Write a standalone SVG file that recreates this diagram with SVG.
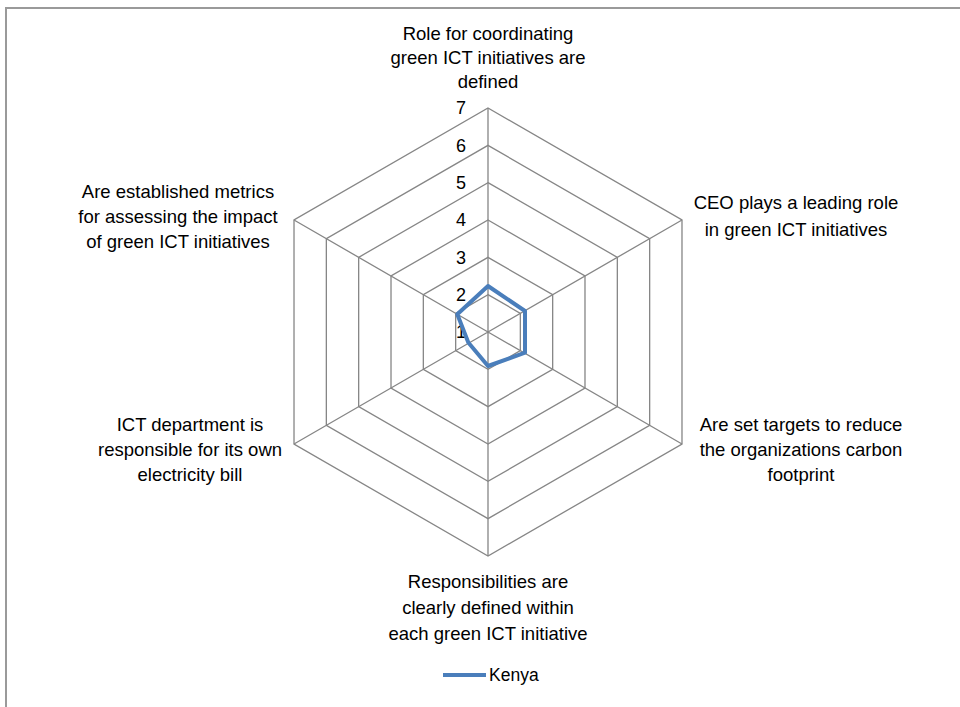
<svg xmlns="http://www.w3.org/2000/svg" width="960" height="707" viewBox="0 0 960 707">
<style>
.t{font-family:"Liberation Sans",Arial,sans-serif;font-size:18.5px;fill:#000;text-anchor:middle}
.n{font-family:"Liberation Sans",Arial,sans-serif;font-size:18px;fill:#000;text-anchor:end}
.g{fill:none;stroke:#868686;stroke-width:1.3}
.s{fill:none;stroke:#4A7EBB;stroke-width:4;stroke-linejoin:round}
</style>
<rect width="960" height="707" fill="#fff"/>
<path d="M6,707 V8 H960" fill="none" stroke="#9a9a9a" stroke-width="2"/>
<g id="grid">
<polygon class="g" points="488,294.67 520.33,313.33 520.33,350.67 488,369.33 455.67,350.67 455.67,313.33"/>
<polygon class="g" points="488,257.33 552.67,294.67 552.67,369.33 488,406.67 423.33,369.33 423.33,294.67"/>
<polygon class="g" points="488,220 584.99,276 584.99,388 488,444 391.01,388 391.01,276"/>
<polygon class="g" points="488,182.67 617.33,257.33 617.33,406.67 488,481.33 358.67,406.67 358.67,257.33"/>
<polygon class="g" points="488,145.33 649.66,238.67 649.66,425.33 488,518.67 326.34,425.33 326.34,238.67"/>
<polygon class="g" points="488,108 681.99,220 681.99,444 488,556 294.01,444 294.01,220"/>
<path class="g" d="M488,332 L488,108 M488,332 L681.99,220 M488,332 L681.99,444 M488,332 L488,556 M488,332 L294.01,444 M488,332 L294.01,220"/>
</g>
<g id="axis-values">
<text class="n" x="466" y="114">7</text>
<text class="n" x="466" y="152">6</text>
<text class="n" x="466" y="189">5</text>
<text class="n" x="466" y="226">4</text>
<text class="n" x="466" y="264">3</text>
<text class="n" x="466" y="301">2</text>
<text class="n" x="466" y="338">1</text>
</g>
<g id="connectors">
<polygon id="series-kenya" class="s" points="488,286 525,311 525,352.7 488,366 468.3,342.5 457.3,314.3"/>
</g>
<g id="label-top">
<text class="t" x="488" y="40">Role for coordinating</text>
<text class="t" x="488" y="64">green ICT initiatives  are</text>
<text class="t" x="488" y="88">defined</text>
</g>
<g id="label-upper-right">
<text class="t" x="796" y="209">CEO plays a leading role</text>
<text class="t" x="796" y="236">in green ICT initiatives</text>
</g>
<g id="label-lower-right">
<text class="t" x="801" y="431">Are set targets to reduce</text>
<text class="t" x="801" y="456">the organizations  carbon</text>
<text class="t" x="801" y="481">footprint</text>
</g>
<g id="label-bottom">
<text class="t" x="488" y="588">Responsibilities are</text>
<text class="t" x="488" y="614">clearly defined within</text>
<text class="t" x="488" y="640">each green ICT initiative</text>
</g>
<g id="label-lower-left">
<text class="t" x="190" y="431">ICT department is</text>
<text class="t" x="190" y="456">responsible for its own</text>
<text class="t" x="190" y="481">electricity bill</text>
</g>
<g id="label-upper-left">
<text class="t" x="178" y="198">Are established metrics</text>
<text class="t" x="178" y="223">for assessing the impact</text>
<text class="t" x="178" y="248">of green ICT initiatives</text>
</g>
<g id="legend">
<line x1="443" y1="675" x2="486" y2="675" stroke="#4A7EBB" stroke-width="4"/>
<text x="489" y="681" font-family="Liberation Sans, Arial, sans-serif" font-size="17.5">Kenya</text>
</g>
</svg>
